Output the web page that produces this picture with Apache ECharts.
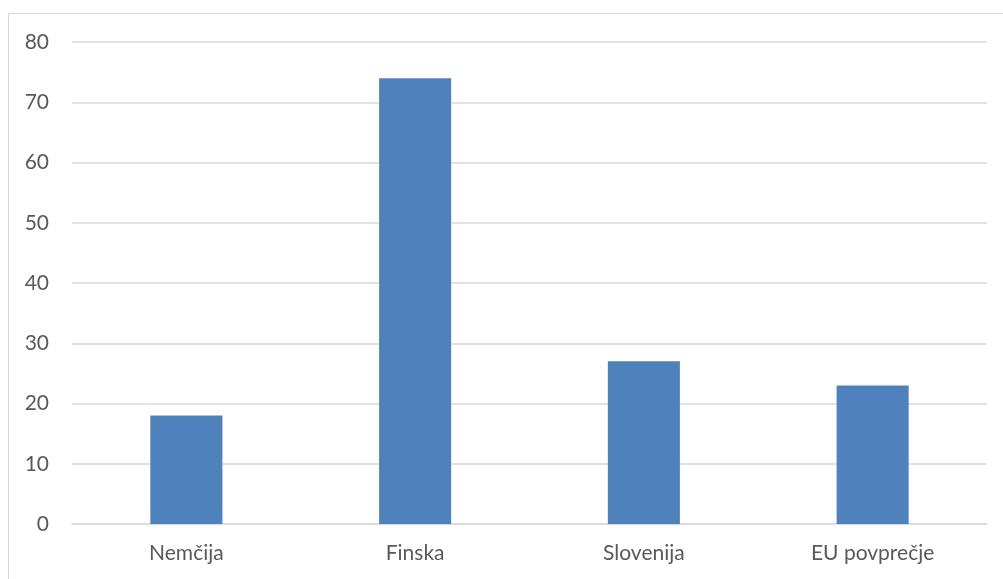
<!DOCTYPE html>
<html><head><meta charset="utf-8">
<script src="https://cdn.jsdelivr.net/npm/echarts@6/dist/echarts.min.js"></script>
<style>
html,body{margin:0;padding:0;background:#fff;overflow:hidden}
#frame{position:absolute;left:8px;top:13px;width:1010px;height:600px;border:1.5px solid #D9D9D9;box-sizing:border-box}
#c{position:absolute;left:0;top:0;width:1003px;height:579px}
</style></head><body>
<div id="frame"></div>
<div id="c"></div>
<script>
const categories = ['Nemčija', 'Finska', 'Slovenija', 'EU povprečje'];
const values = [18, 74, 27, 23];
const yTicks = { min: 0, max: 80, interval: 10 };

const chart = echarts.init(document.getElementById('c'), null, { renderer: 'canvas' });
chart.setOption({
  animation: false,
  backgroundColor: 'transparent',
  grid: { left: 72, right: 16, top: 42, bottom: 55, containLabel: false },
  xAxis: {
    type: 'category', data: categories,
    axisLine: { lineStyle: { color: '#D9D9D9', width: 1.5 } },
    axisTick: { show: false },
    axisLabel: { color: '#595959', fontFamily: 'Lato', fontSize: 21, margin: 19 }
  },
  yAxis: {
    type: 'value', min: yTicks.min, max: yTicks.max, interval: yTicks.interval,
    axisLine: { show: false }, axisTick: { show: false },
    splitLine: { lineStyle: { color: '#D9D9D9', width: 1.5 } },
    axisLabel: { color: '#595959', fontFamily: 'Lato', fontSize: 21, margin: 23 }
  },
  series: [{
    type: 'bar', data: values, barWidth: '31.5%',
    itemStyle: { color: '#4F81BD' }
  }]
});
</script></body></html>
